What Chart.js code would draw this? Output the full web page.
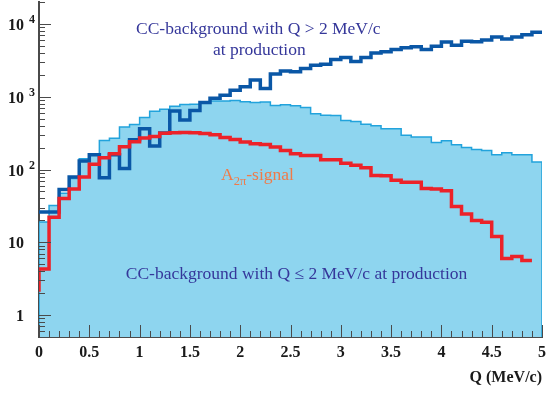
<!DOCTYPE html>
<html>
<head>
<meta charset="utf-8">
<script src="https://cdn.jsdelivr.net/npm/chart.js@4.4.1/dist/chart.umd.min.js"></script>
<style>
  html, body { margin: 0; padding: 0; background: #ffffff; }
  #wrap { width: 546px; height: 394px; }
</style>
</head>
<body>
<div id="wrap"><canvas id="qplot" width="546" height="394"></canvas></div>
<script>
// Axis ranges
const Q_MIN = 0, Q_MAX = 5;
const Y_MIN = 0.5, Y_MAX = 20000;

// Left edges of the 0.1 MeV/c bins in Q
const qEdges = [0.0, 0.1, 0.2, 0.3, 0.4, 0.5, 0.6, 0.7, 0.8, 0.9,
                1.0, 1.1, 1.2, 1.3, 1.4, 1.5, 1.6, 1.7, 1.8, 1.9,
                2.0, 2.1, 2.2, 2.3, 2.4, 2.5, 2.6, 2.7, 2.8, 2.9,
                3.0, 3.1, 3.2, 3.3, 3.4, 3.5, 3.6, 3.7, 3.8, 3.9,
                4.0, 4.1, 4.2, 4.3, 4.4, 4.5, 4.6, 4.7, 4.8, 4.9];

// CC-background, Q <= 2 MeV/c at production (filled)
const ccLowQ = [19, 32, 47, 75, 140, 165, 250, 268, 385, 415,
                520, 630, 670, 740, 780, 790, 840, 870, 875, 885,
                850, 830, 845, 760, 775, 750, 710, 585, 555, 550,
                470, 455, 420, 400, 362, 362, 295, 280, 280, 235,
                248, 218, 200, 188, 182, 160, 170, 160, 160, 127];

// CC-background, Q > 2 MeV/c at production
const ccHighQ = [26, 26, 53, 79, 131, 160, 77, 160, 103, 257,
                 363, 210, 317, 635, 480, 648, 830, 950, 1050, 1230,
                 1370, 1700, 1300, 2050, 2250, 2200, 2450, 2700, 2800, 3250,
                 3450, 3050, 3450, 4000, 4150, 4450, 4700, 4850, 4450, 4950,
                 5650, 5100, 5800, 5700, 6000, 6600, 6200, 6600, 7100, 7700];

// A2pi signal (last bin empty); the outline starts from signalEdge at Q = 0
const signalEdge = 2.1;
const signal = [4.3, 22, 40, 54, 79, 118, 145, 165, 205, 240,
                270, 285, 315, 320, 322, 320, 312, 300, 275, 258,
                238, 226, 220, 204, 183, 165, 156, 156, 136, 136,
                122, 114, 106, 83, 82, 71, 67, 67, 55, 54,
                51, 31, 24.5, 20, 18.8, 12, 6.0, 6.4, 5.6];

// Tick labels
const xTickLabels = ['0', '0.5', '1', '1.5', '2', '2.5', '3', '3.5', '4', '4.5', '5'];
const yTickValues = [1, 10, 100, 1000, 10000];
const yTickBase   = ['1', '10', '10', '10', '10'];
const yTickExp    = ['', '', '2', '3', '4'];
const yMinorSteps = [2, 3, 4, 5, 6, 7, 8, 9];

// Colours
const FILL_LOW = '#8ed5ef';
const EDGE_LOW = '#22a3dc';
const LINE_HIGH = '#0a57a6';
const LINE_SIG = '#ec2229';
const AXIS_COL = '#4a4a4a';
const TEXT_BLUE = '#35379a';
const TEXT_ORANGE = '#f07a48';
const SERIF = '"Liberation Serif", "Times New Roman", serif';

// Step outlines: one point per bin left edge, closed at the right edge
const lowPts = [{ x: qEdges[0], y: Y_MIN }];
ccLowQ.forEach((v, i) => lowPts.push({ x: qEdges[i], y: v }));
lowPts.push({ x: Q_MAX, y: ccLowQ[ccLowQ.length - 1] });
lowPts.push({ x: Q_MAX, y: Y_MIN });

const highPts = ccHighQ.map((v, i) => ({ x: qEdges[i], y: v }));
highPts.push({ x: Q_MAX, y: ccHighQ[ccHighQ.length - 1] });

const sigPts = [{ x: qEdges[0], y: signalEdge }];
signal.forEach((v, i) => sigPts.push({ x: qEdges[i], y: v }));
sigPts.push({ x: qEdges[signal.length], y: signal[signal.length - 1] });

// Inward tick marks, decade labels with exponents, and the in-plot captions
const frameDecor = {
  id: 'frameDecor',
  afterDraw(chart) {
    const { ctx, chartArea: ca, scales: { x, y } } = chart;
    ctx.save();
    ctx.strokeStyle = AXIS_COL;
    ctx.lineWidth = 1;

    const xTick = (q, len) => {
      const px = Math.round(x.getPixelForValue(q)) + 0.5;
      ctx.beginPath(); ctx.moveTo(px, ca.bottom); ctx.lineTo(px, ca.bottom - len); ctx.stroke();
    };
    const yTick = (v, len) => {
      if (v < Y_MIN || v > Y_MAX) return;
      const py = Math.round(y.getPixelForValue(v)) + 0.5;
      ctx.beginPath(); ctx.moveTo(ca.left, py); ctx.lineTo(ca.left + len, py); ctx.stroke();
    };

    // x ticks: every bin edge, long ones at the labelled values
    qEdges.forEach(q => xTick(q, 6));
    x.ticks.forEach(t => xTick(t.value, 12));

    // y ticks: long at each decade, short at 2..9 times the decade (and below 1)
    [0.1].concat(yTickValues).forEach(d => {
      yTick(d, 12);
      yMinorSteps.forEach(m => yTick(m * d, 6));
    });

    // decade labels
    ctx.fillStyle = '#1a1a1a';
    yTickValues.forEach((v, i) => {
      const py = y.getPixelForValue(v);
      ctx.font = 'bold 16px ' + SERIF;
      ctx.textAlign = 'right';
      ctx.textBaseline = 'alphabetic';
      ctx.fillText(yTickBase[i], ca.left - 15, py + 6);
      if (yTickExp[i]) {
        ctx.font = 'bold 12px ' + SERIF;
        ctx.textAlign = 'left';
        ctx.fillText(yTickExp[i], ca.left - 10, py - 1);
      }
    });

    // captions
    ctx.textBaseline = 'alphabetic';
    ctx.fillStyle = TEXT_BLUE;
    ctx.font = '17.5px ' + SERIF;
    ctx.textAlign = 'center';
    ctx.fillText('CC-background with Q > 2 MeV/c', x.getPixelForValue(2.18), y.getPixelForValue(7250));
    ctx.fillText('at production', x.getPixelForValue(2.19), y.getPixelForValue(3730));
    ctx.fillText('CC-background with Q \u2264 2 MeV/c at production', x.getPixelForValue(2.56), y.getPixelForValue(3.16));

    // A_{2pi}-signal
    ctx.fillStyle = TEXT_ORANGE;
    ctx.textAlign = 'left';
    let sx = x.getPixelForValue(1.81);
    const sy = y.getPixelForValue(72);
    ctx.font = '17.5px ' + SERIF;
    ctx.fillText('A', sx, sy);
    sx += ctx.measureText('A').width;
    ctx.font = '12.5px ' + SERIF;
    ctx.fillText('2\u03c0', sx, sy + 5);
    sx += ctx.measureText('2\u03c0').width;
    ctx.font = '17.5px ' + SERIF;
    ctx.fillText('-signal', sx, sy);
    ctx.restore();
  }
};

Chart.defaults.font.family = SERIF;

new Chart(document.getElementById('qplot'), {
  type: 'line',
  data: {
    datasets: [
      { label: 'A2pi-signal', data: sigPts, stepped: true, borderColor: LINE_SIG,
        borderWidth: 3.5, pointRadius: 0, fill: false, borderJoinStyle: 'miter' },
      { label: 'CC-background, Q > 2 MeV/c', data: highPts, stepped: true, borderColor: LINE_HIGH,
        borderWidth: 3.5, pointRadius: 0, fill: false, borderJoinStyle: 'miter' },
      { label: 'CC-background, Q <= 2 MeV/c', data: lowPts, stepped: true, borderColor: EDGE_LOW,
        backgroundColor: FILL_LOW, borderWidth: 1.5, pointRadius: 0, fill: 'start', borderJoinStyle: 'miter' }
    ]
  },
  options: {
    responsive: false,
    animation: false,
    events: [],
    layout: { padding: { left: 39, right: 4, top: 2, bottom: 7 } },
    plugins: { legend: { display: false }, tooltip: { enabled: false } },
    scales: {
      x: {
        type: 'linear', min: Q_MIN, max: Q_MAX, z: 1,
        grid: { display: false, drawTicks: false },
        border: { display: true, color: AXIS_COL, width: 2 },
        ticks: { stepSize: 0.5, autoSkip: false, maxRotation: 0, padding: 6,
                 color: '#1a1a1a', font: { size: 16, weight: 'bold' },
                 callback: (v, i) => xTickLabels[i] },
        title: { display: true, text: 'Q (MeV/c)', align: 'end', color: '#1a1a1a',
                 font: { size: 16, weight: 'bold' }, padding: { top: 0, bottom: 0 } },
        afterFit: s => { s.height = 50; s.paddingLeft = 0; s.paddingRight = 0; }
      },
      y: {
        type: 'logarithmic', min: Y_MIN, max: Y_MAX, z: 1,
        grid: { display: false, drawTicks: false },
        border: { display: true, color: AXIS_COL, width: 2 },
        ticks: { display: false },
        afterFit: s => { s.width = 0; s.paddingTop = 0; s.paddingBottom = 0; }
      }
    }
  },
  plugins: [frameDecor]
});
</script>
</body>
</html>
